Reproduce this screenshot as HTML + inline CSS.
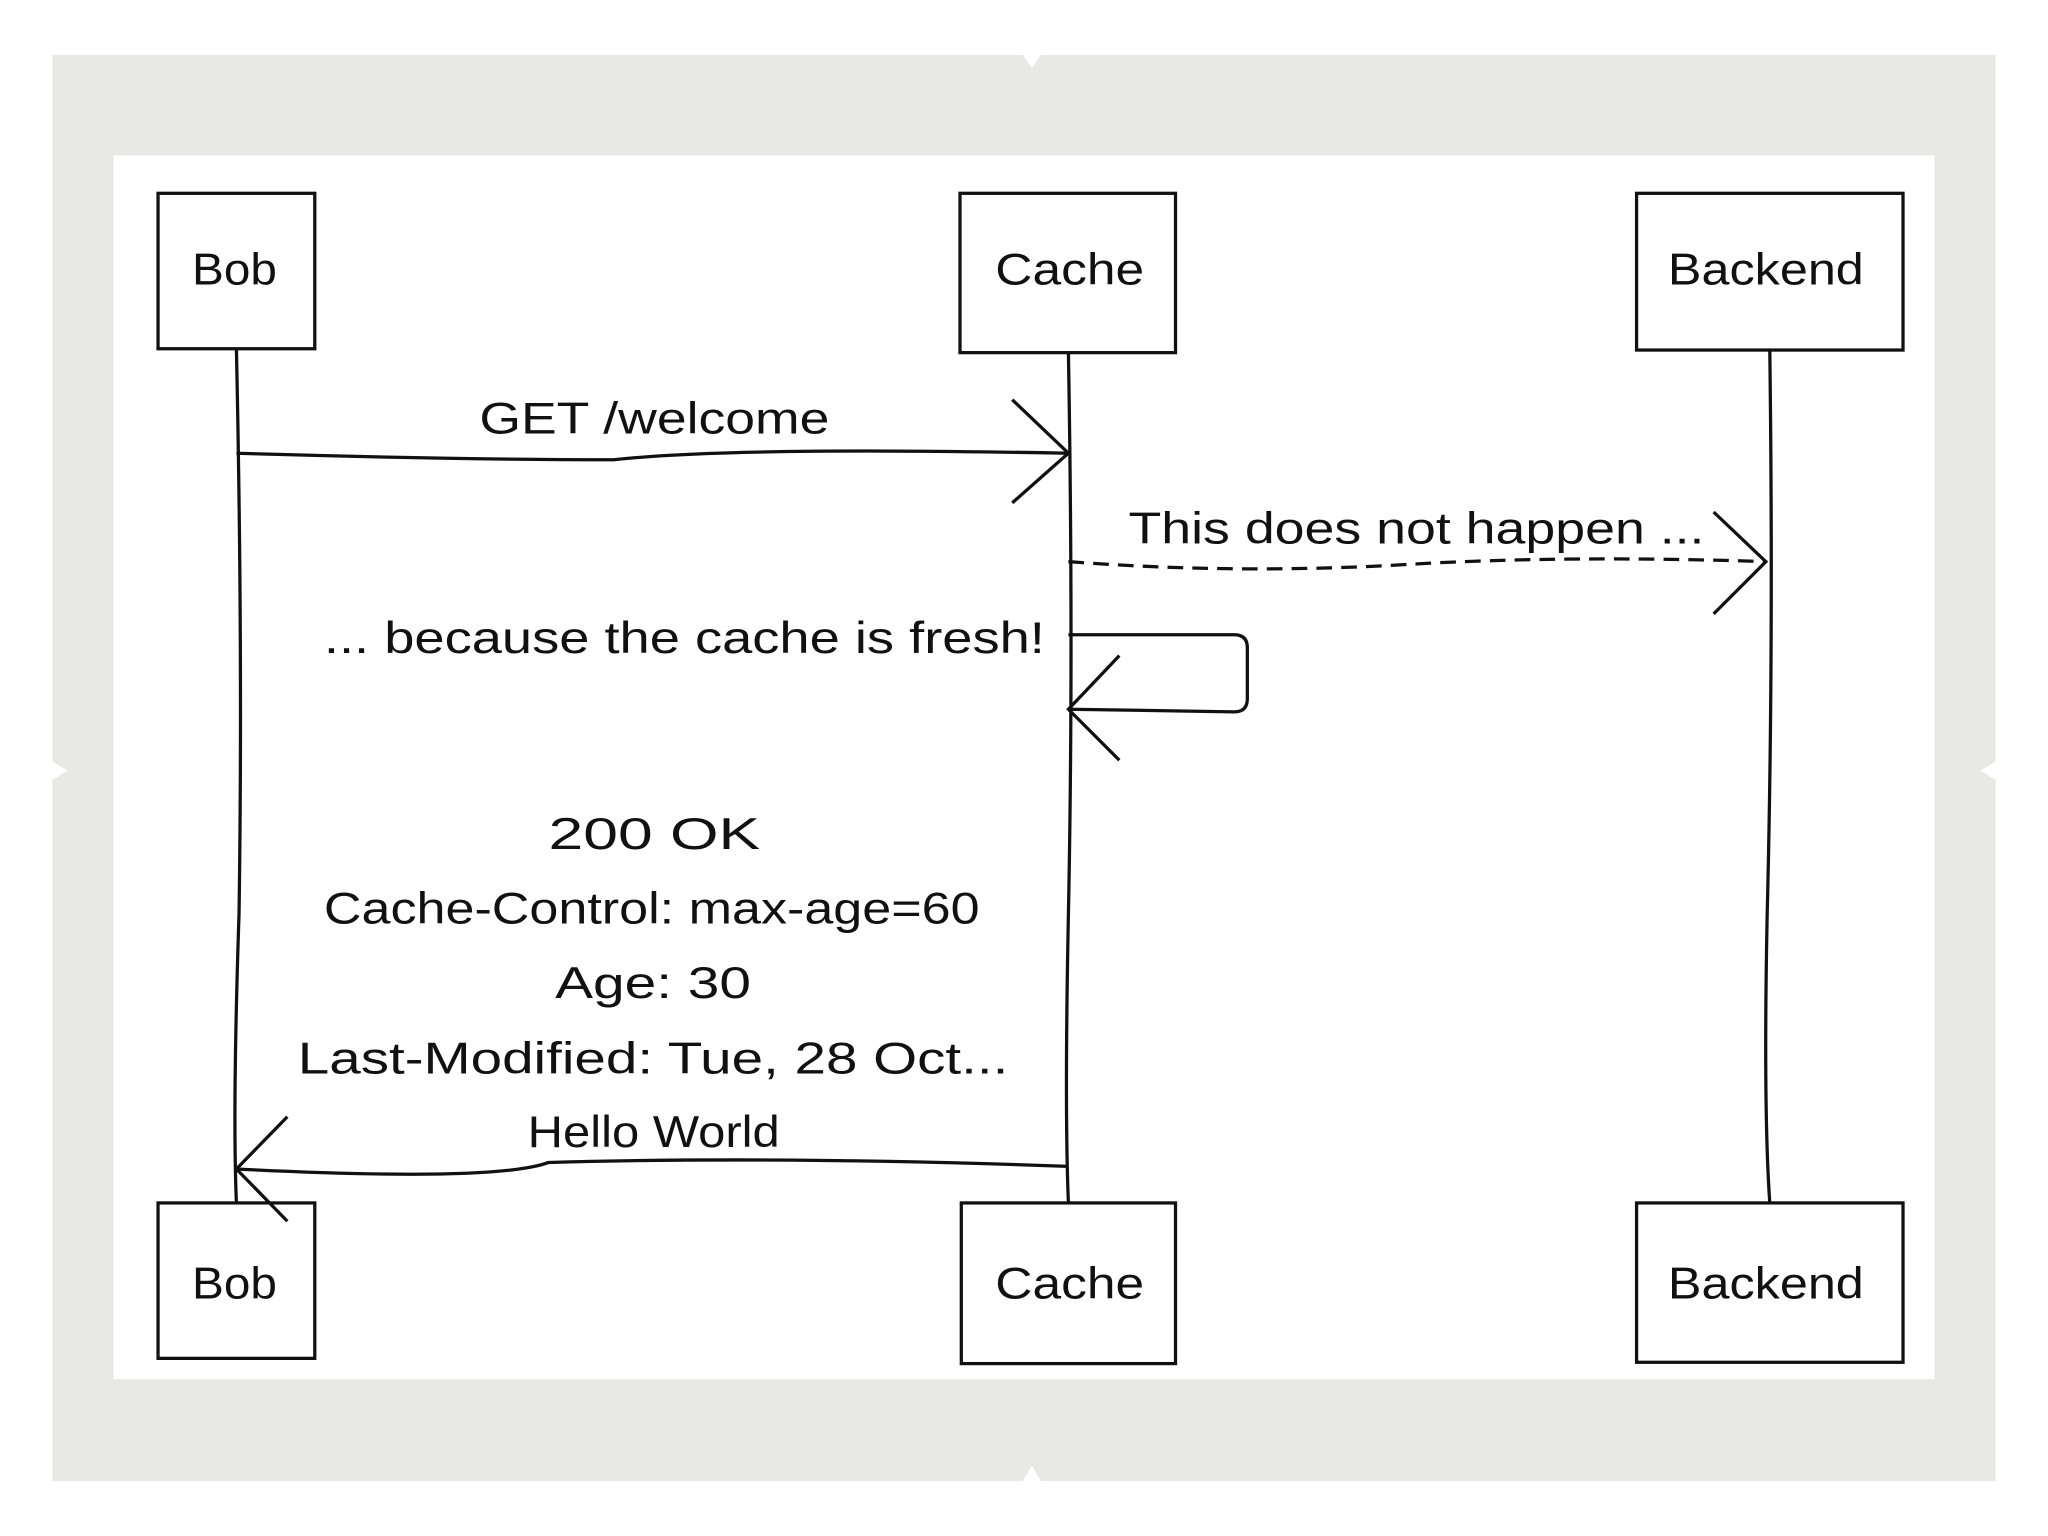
<!DOCTYPE html>
<html><head><style>
html,body{margin:0;padding:0;background:#fff;}
svg{display:block;}
text{font-family:"Liberation Sans",sans-serif;fill:#111;}
</style></head><body>
<svg width="2048" height="1536" viewBox="0 0 1568 1176" xmlns="http://www.w3.org/2000/svg">
<rect x="0" y="0" width="1568" height="1176" fill="#fff"/>
<rect x="40" y="42" width="1488" height="1092" fill="#e8e8e4"/>
<path d="M783 42 L797 42 L790 52 Z M783 1134 L797 1134 L790 1122 Z M40 583 L40 597 L52 590 Z M1528 583 L1528 597 L1516 590 Z" fill="#fff"/>
<rect x="87" y="119" width="1394" height="937" fill="#fff"/>
<g fill="none" stroke="#111" stroke-width="2.5">
<path d="M181 267 Q186 500 183 700 Q178 850 181 921"/>
<path d="M818 270 Q822 500 818 700 Q815 850 818 921"/>
<path d="M1355 268 Q1358 500 1353 700 Q1350 850 1355 921"/>
<rect x="121" y="148" width="120" height="119" fill="#fff"/>
<rect x="735" y="148" width="165" height="122" fill="#fff"/>
<rect x="1253" y="148" width="204" height="120" fill="#fff"/>
<rect x="121" y="921" width="120" height="119" fill="#fff"/>
<rect x="736" y="921" width="164" height="123" fill="#fff"/>
<rect x="1253" y="921" width="204" height="122" fill="#fff"/>
<path d="M181 347 Q350 352 470 352 Q560 342 818 347"/>
<path d="M775 306 L818 347 L775 385"/>
<path d="M818 430 Q950 440 1080 432 Q1200 425 1352 430" stroke-dasharray="12 7"/>
<path d="M1312 392 L1352 430 L1312 470"/>
<path d="M818 486 L945 486 Q955 486 955 496 L955 535 Q955 545 945 545 L818 543"/>
<path d="M857 502 L818 543 L857 582"/>
<path d="M818 893 Q600 885 420 890 Q380 905 181 895"/>
<path d="M220 855 L181 895 L220 935"/>
</g>
<g font-size="34" lengthAdjust="spacingAndGlyphs">
<text x="147" y="218" textLength="65" lengthAdjust="spacingAndGlyphs">Bob</text>
<text x="762" y="218" textLength="114" lengthAdjust="spacingAndGlyphs">Cache</text>
<text x="1277" y="218" textLength="150" lengthAdjust="spacingAndGlyphs">Backend</text>
<text x="147" y="994" textLength="65" lengthAdjust="spacingAndGlyphs">Bob</text>
<text x="762" y="994" textLength="114" lengthAdjust="spacingAndGlyphs">Cache</text>
<text x="1277" y="994" textLength="150" lengthAdjust="spacingAndGlyphs">Backend</text>
<text x="367" y="332" textLength="268" lengthAdjust="spacingAndGlyphs">GET /welcome</text>
<text x="864" y="416" textLength="441" lengthAdjust="spacingAndGlyphs">This does not happen ...</text>
<text x="248" y="500" textLength="552" lengthAdjust="spacingAndGlyphs">... because the cache is fresh!</text>
<text x="420" y="650" textLength="162" lengthAdjust="spacingAndGlyphs">200 OK</text>
<text x="248" y="707" textLength="502" lengthAdjust="spacingAndGlyphs">Cache-Control: max-age=60</text>
<text x="425" y="764" textLength="150" lengthAdjust="spacingAndGlyphs">Age: 30</text>
<text x="228" y="822" textLength="544" lengthAdjust="spacingAndGlyphs">Last-Modified: Tue, 28 Oct...</text>
<text x="404" y="878" textLength="193" lengthAdjust="spacingAndGlyphs">Hello World</text>
</g>
</svg>
</body></html>
